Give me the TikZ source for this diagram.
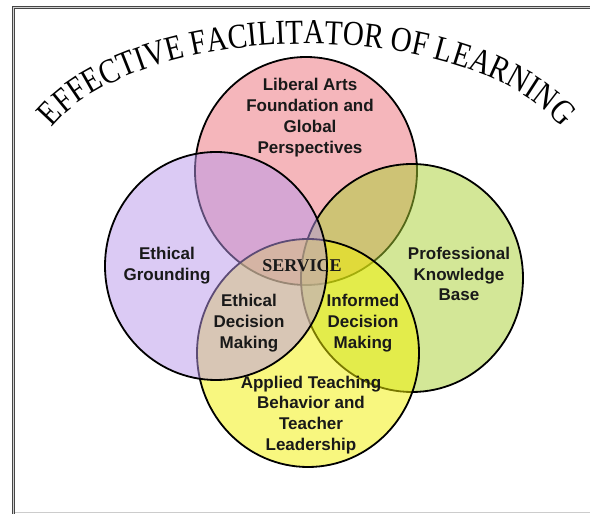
\documentclass[tikz,border=0pt]{standalone}
\usepackage{fontspec}
\setmainfont{Liberation Sans}
\newfontfamily\titlefont{Liberation Serif}[FakeStretch=0.83]
\newfontfamily\servfont{Liberation Serif}
\usetikzlibrary{decorations.text,shapes.geometric}
\definecolor{pinkc}{RGB}{237,111,121}
\definecolor{purplec}{RGB}{185,151,235}
\definecolor{greenc}{RGB}{169,209,49}
\definecolor{yellowc}{RGB}{243,241,0}
\begin{document}
\begin{tikzpicture}[x=1pt,y=1pt,
  venn/.style={ellipse, draw=black, line width=1.8pt, fill opacity=0.5,
    minimum width=222pt, minimum height=228pt, inner sep=0pt},
  lbl/.style={font=\fontsize{17}{20.8}\selectfont\bfseries, align=center,
    inner sep=0pt, text=black!90}]
\useasboundingbox (0,0) rectangle (590,514);
\clip (0,0) rectangle (590,514);
\fill[white] (0,0) rectangle (590,514);
% frame
\draw[draw=gray!55!black, line width=1.2pt, double=gray!35, double distance=1.4pt]
  (13.5,-5) -- (13.5,506.5) -- (592,506.5);
\draw[gray!40, line width=1.2pt] (15,1.2) -- (590,1.2);
% circles
\node[venn, fill=pinkc] (pink) at (306,343) {};
\node[venn, fill=greenc] (green) at (412,236) {};
\node[venn, fill=yellowc] (yellow) at (308,161) {};
\node[venn, fill=purplec] (purple) at (216,248) {};
% title
\path[decorate, decoration={text along path, text align=center,
  text={|\titlefont\fontsize{35}{35}\selectfont|EFFECTIVE FACILITATOR OF LEARNING}}]
  (307,340) ++(162.3:273 and 130) arc[start angle=162.3, end angle=17.7, x radius=273, y radius=130];
% labels
\node[lbl] (lpink) at (310,396.5) {Liberal Arts\\Foundation and\\Global\\Perspectives};
\node[lbl] (lpurple) at (167,248.5) {Ethical\\Grounding};
\node[lbl] (lgreen) at (459,240) {Professional\\Knowledge\\Base};
\node[lbl] (lyellow) at (311,99) {Applied Teaching\\Behavior and\\Teacher\\Leadership};
\node[lbl] (ledm) at (249,191) {Ethical\\Decision\\Making};
\node[lbl] (lidm) at (363,191) {Informed\\Decision\\Making};
\node[inner sep=0pt, font=\servfont\bfseries\fontsize{18}{18}\selectfont, text=black!90] (serv) at (302,248) {SERVICE};
\end{tikzpicture}
\end{document}
